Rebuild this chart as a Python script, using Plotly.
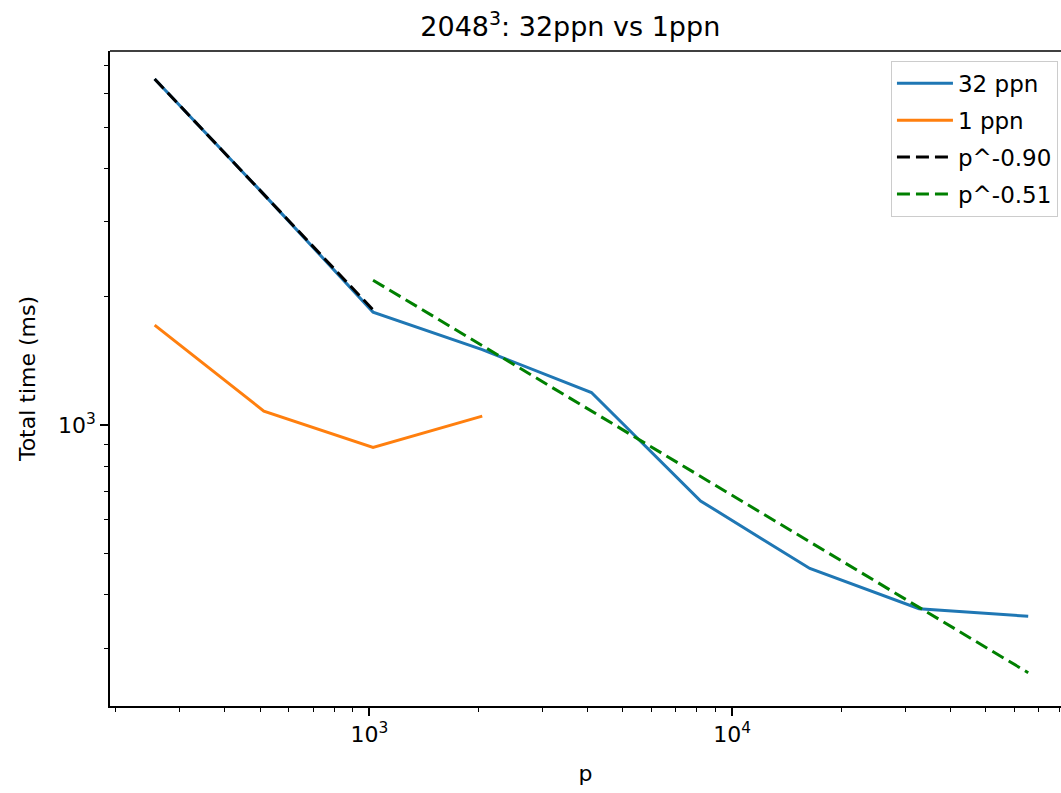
import numpy as np
import plotly.graph_objects as go

# Process counts and total times (ms)
procs_32 = [256, 512, 1024, 2048, 4096, 8192, 16384, 32768, 65536]
time_32 = [6492, 3480, 1842, 1504, 1193, 664, 461, 371, 356]

procs_1 = [256, 512, 1024, 2048]
time_1 = [1717, 1079, 887, 1050]

# Power-law fits: amplitude at the first point, and exponent
fit_a_x = [256, 512, 1024]
fit_a_t0 = 6492
fit_a_exp = -0.90

fit_b_x = [1024, 2048, 4096, 8192, 16384, 32768, 65536]
fit_b_t0 = 2189
fit_b_exp = -0.51

x_major = [1000, 10000]
x_major_text = ["10<sup>3</sup>", "10<sup>4</sup>"]
y_major = [1000]
y_major_text = ["10<sup>3</sup>"]
x_minor = [200, 300, 400, 500, 600, 700, 800, 900,
           2000, 3000, 4000, 5000, 6000, 7000, 8000, 9000,
           20000, 30000, 40000, 50000, 60000, 70000, 80000]
y_minor = [300, 400, 500, 600, 700, 800, 900,
           2000, 3000, 4000, 5000, 6000, 7000]

fit_a_y = [fit_a_t0 * (p / fit_a_x[0]) ** fit_a_exp for p in fit_a_x]
fit_b_y = [fit_b_t0 * (p / fit_b_x[0]) ** fit_b_exp for p in fit_b_x]

FONT = "DejaVu Sans"
LW = 3

fig = go.Figure()
fig.add_trace(go.Scatter(x=procs_32, y=time_32, mode="lines", name="32 ppn",
                         legendgroup="a",
                         line=dict(color="#1f77b4", width=LW)))
fig.add_trace(go.Scatter(x=procs_1, y=time_1, mode="lines", name="1 ppn",
                         legendgroup="b",
                         line=dict(color="#ff7f0e", width=LW)))
fig.add_trace(go.Scatter(x=fit_a_x, y=fit_a_y, mode="lines",
                         name=f"p^{fit_a_exp:.2f}", legendgroup="c",
                         line=dict(color="black", width=LW, dash="13px,6px")))
fig.add_trace(go.Scatter(x=fit_b_x, y=fit_b_y, mode="lines",
                         name=f"p^{fit_b_exp:.2f}", legendgroup="d",
                         line=dict(color="green", width=LW, dash="13px,6px")))

axis_common = dict(
    showgrid=False, zeroline=False, showline=True, linecolor="black",
    linewidth=1.6, ticks="outside", ticklen=8, tickwidth=1.6,
    tickcolor="black", tickfont=dict(family=FONT, size=22, color="black"),
)

fig.update_xaxes(
    type="log", range=[np.log10(192.8), np.log10(80700)],
    tickmode="array", tickvals=x_major, ticktext=x_major_text,
    minor=dict(tickmode="array", tickvals=x_minor, ticks="outside",
               ticklen=4.5, tickwidth=1.4, tickcolor="black", showgrid=False),
    title=dict(text="p", font=dict(family=FONT, size=22, color="black"),
               standoff=19),
    **axis_common,
)
fig.update_yaxes(
    type="log", range=[np.log10(219.3), np.log10(7551)],
    tickmode="array", tickvals=y_major, ticktext=y_major_text,
    minor=dict(tickmode="array", tickvals=y_minor, ticks="outside",
               ticklen=4.5, tickwidth=1.4, tickcolor="black", showgrid=False),
    title=dict(text="Total time (ms)",
               font=dict(family=FONT, size=22, color="black"), standoff=16),
    **axis_common,
)

# top frame line (the right edge of the frame falls outside the canvas)
fig.add_shape(type="line", xref="paper", yref="paper", x0=0, x1=1, y0=1, y1=1,
              line=dict(color="black", width=1.6))

fig.update_layout(
    width=1061, height=793,
    margin=dict(l=110, r=0, t=51, b=87),
    paper_bgcolor="white", plot_bgcolor="white",
    font=dict(family=FONT, color="black"),
    title=dict(text="2048<sup>3</sup>: 32ppn vs 1ppn", x=0.5375, xanchor="center",
               yref="container", y=1 - 27 / 793, yanchor="middle",
               font=dict(family=FONT, size=27, color="black")),
    legend=dict(x=0.9968, xanchor="right", y=0.985, yanchor="top",
                bgcolor="rgba(255,255,255,0.8)", bordercolor="#cccccc",
                borderwidth=1, font=dict(family=FONT, size=23, color="black"),
                tracegroupgap=4, itemwidth=56),
    showlegend=True,
)

fig.write_html("out.html")
